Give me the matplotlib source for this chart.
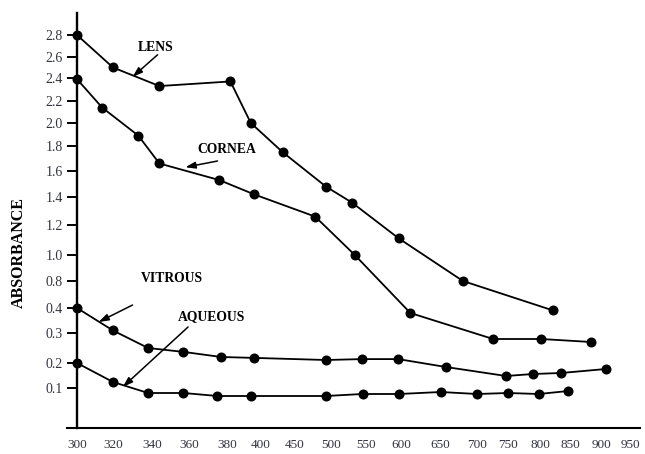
import numpy as np
import matplotlib
matplotlib.use('Agg')
import matplotlib.pyplot as plt

# 数据
lens_x = [300, 320, 344, 382, 394, 432, 493, 530, 597, 681, 822]
lens_y = [2.80, 2.50, 2.33, 2.37, 2.00, 1.75, 1.48, 1.36, 1.11, 0.80, 0.39]

cornea_x = [300, 314, 333, 344, 376, 396, 478, 534, 612, 726, 802, 883]
cornea_y = [2.39, 2.14, 1.89, 1.66, 1.53, 1.42, 1.26, 1.00, 0.38, 0.28, 0.28, 0.27]

vitrous_x = [300, 320, 338, 357, 377, 396, 493, 544, 596, 658, 747, 789, 835, 907]
vitrous_y = [0.40, 0.31, 0.25, 0.237, 0.22, 0.217, 0.21, 0.213, 0.213, 0.184, 0.148, 0.156, 0.16, 0.176]

aqueous_x = [300, 320, 338, 357, 375, 394, 493, 545, 597, 651, 700, 750, 798, 847]
aqueous_y = [0.20, 0.124, 0.08, 0.08, 0.068, 0.068, 0.068, 0.076, 0.076, 0.084, 0.076, 0.08, 0.076, 0.088]

x_ticks = [300, 320, 340, 360, 380, 400, 450, 500, 550, 600, 650, 700, 750, 800, 850, 900, 950]
y_ticks = [0.1, 0.2, 0.3, 0.4, 0.8, 1.0, 1.2, 1.4, 1.6, 1.8, 2.0, 2.2, 2.4, 2.6, 2.8]

# 原图坐标轴不是线性的：刻度在图上的像素位置
x_tick_px = np.array([77, 113, 152, 189, 227, 261, 295, 331, 366, 401, 440, 477, 508, 540, 570, 602, 630], float)
y_tick_px = np.array([388, 363, 333, 308, 281, 255, 225, 197, 171, 146, 123, 101, 78, 57, 35], float)

W, H = 645, 454


def lin_map(v, xp, fp):
    # 分段线性，两端线性外推
    v = np.asarray(v, float)
    xp = np.asarray(xp, float)
    fp = np.asarray(fp, float)
    out = np.interp(v, xp, fp)
    k0 = (fp[1] - fp[0]) / (xp[1] - xp[0])
    k1 = (fp[-1] - fp[-2]) / (xp[-1] - xp[-2])
    out = np.where(v < xp[0], fp[0] + (v - xp[0]) * k0, out)
    out = np.where(v > xp[-1], fp[-1] + (v - xp[-1]) * k1, out)
    return out


xv = np.array(x_ticks, float)
yv = np.array(y_ticks, float)


def fx(v):
    return lin_map(v, xv, x_tick_px)


def ix(p):
    return lin_map(p, x_tick_px, xv)


def fy(v):
    return lin_map(v, yv, -y_tick_px)


def iy(p):
    return lin_map(p, -y_tick_px, yv)


plt.rcParams['font.family'] = ['Liberation Serif', 'DejaVu Serif']

fig = plt.figure(figsize=(W / 100, H / 100), dpi=100)
left, right, top, bottom = 67, 640, 13, 428
ax = fig.add_axes([left / W, (H - bottom) / H, (right - left) / W, (bottom - top) / H])

ax.set_xscale('function', functions=(fx, ix))
ax.set_yscale('function', functions=(fy, iy))
ax.set_xlim(float(ix(left)), float(ix(right)))
ax.set_ylim(float(iy(-bottom)), float(iy(-top)))

style = dict(color='black', lw=1.3, marker='o', markersize=6.2, clip_on=False)
ax.plot(lens_x, lens_y, **style)
ax.plot(cornea_x, cornea_y, **style)
ax.plot(vitrous_x, vitrous_y, **style)
ax.plot(aqueous_x, aqueous_y, **style)

# 坐标轴样式
for s in ['top', 'right']:
    ax.spines[s].set_visible(False)
ax.spines['left'].set_position(('data', 300))
ax.spines['left'].set_linewidth(1.7)
ax.spines['bottom'].set_linewidth(1.5)

ax.set_xticks(x_ticks)
ax.set_xticklabels([str(t) for t in x_ticks])
ax.set_yticks(y_ticks)
ax.set_yticklabels(['%.1f' % t for t in y_ticks])
ax.xaxis.set_minor_locator(matplotlib.ticker.NullLocator())
ax.yaxis.set_minor_locator(matplotlib.ticker.NullLocator())
ax.tick_params(axis='x', length=0, pad=8, labelsize=9.5, labelcolor='#333340')
ax.tick_params(axis='y', direction='out', length=7, width=1.4, pad=3,
               labelsize=10, labelcolor='#333340')

# 标注
arrow = dict(arrowstyle='-|>,head_length=0.6,head_width=0.2', color='black', lw=1.1,
             shrinkA=0, shrinkB=0)
lab = dict(fontsize=9.8, fontweight='bold', ha='center', va='center')

ax.text(342, 2.69, 'LENS', **lab)
ax.annotate('', xy=(330, 2.41), xytext=(343, 2.62), arrowprops=arrow)

ax.text(380, 1.77, 'CORNEA', **lab)
ax.annotate('', xy=(358, 1.63), xytext=(375, 1.68), arrowprops=arrow)

ax.text(351, 0.82, 'VITROUS', **lab)
ax.annotate('', xy=(312, 0.344), xytext=(330, 0.444), arrowprops=arrow)

ax.text(372, 0.364, 'AQUEOUS', **lab)
ax.annotate('', xy=(325, 0.104), xytext=(359.5, 0.324), arrowprops=arrow)

fig.text(19 / W, (H - 253) / H, 'ABSORBANCE', rotation=90, fontsize=11.5,
         fontweight='bold', ha='center', va='center')

fig.savefig('out.png', dpi=100)
